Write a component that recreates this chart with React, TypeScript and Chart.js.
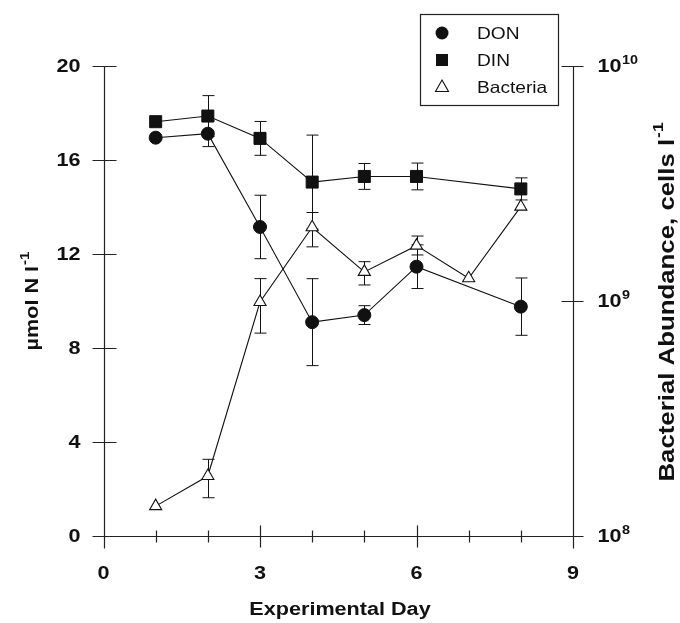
import React, { useEffect, useRef } from 'react';
import { Chart, registerables } from 'chart.js';

Chart.register(...registerables);

// ---- data ----
const days = [1, 2, 3, 4, 5, 6, 8];
const donValues = [16.95, 17.12, 13.15, 9.1, 9.4, 11.46, 9.76];
const donErrors = [0, 0.55, 1.35, 1.85, 0.4, 0.93, 1.22];
const dinValues = [17.63, 17.87, 16.92, 15.06, 15.3, 15.3, 14.77];
const dinErrors = [0, 0.87, 0.72, 2.0, 0.55, 0.57, 0.47];
const bacteriaDays = [1, 2, 3, 4, 5, 6, 7, 8];
const bacteriaValues = [1.34e8, 1.8e8, 0.99e9, 2.06e9, 1.33e9, 1.72e9, 1.25e9, 2.52e9];
const bacteriaLow = [null, 1.455e8, 7.3e8, 1.7e9, 1.17e9, 1.57e9, null, null];
const bacteriaHigh = [null, 2.12e8, 1.245e9, 2.38e9, 1.47e9, 1.89e9, null, null];

const xMajorTicks = [0, 3, 6, 9];
const xMinorTicks = [1, 2, 4, 5, 7, 8];
const leftTicks = [0, 4, 8, 12, 16, 20];
const rightTicks = [1e8, 1e9, 1e10];
const rightTickExponents = ['8', '9', '10'];
const legendLabels = ['DON', 'DIN', 'Bacteria'];
const xTitle = 'Experimental Day';
const leftTitle = 'µmol N l';
const rightTitle = 'Bacterial Abundance, cells l';
const unitExponent = '-1';

const FONT = '"Liberation Sans", Arial, Helvetica, sans-serif';
const INK = '#111';
const SX = 1.2;

function drawText(
  ctx: CanvasRenderingContext2D,
  text: string,
  x: number,
  y: number,
  font: string,
  align: CanvasTextAlign,
  sx = SX,
): number {
  ctx.save();
  ctx.translate(x, y);
  ctx.scale(sx, 1);
  ctx.font = font;
  ctx.textAlign = align;
  ctx.textBaseline = 'middle';
  ctx.fillText(text, 0, 0);
  const w = ctx.measureText(text).width * sx;
  ctx.restore();
  return w;
}

function measure(ctx: CanvasRenderingContext2D, text: string, font: string, sx = SX) {
  ctx.save();
  ctx.font = font;
  const w = ctx.measureText(text).width * sx;
  ctx.restore();
  return w;
}

const drawPlugin = {
  id: 'customDraw',
  beforeDatasetsDraw(chart: any) {
    const ctx = chart.ctx as CanvasRenderingContext2D;
    const xs = chart.scales.x;
    const ys = chart.scales.y;
    const yr = chart.scales.y1;
    const L = Math.round(xs.getPixelForValue(0)) + 0.5;
    const R = Math.round(xs.getPixelForValue(9)) + 0.5;
    const T = Math.round(ys.getPixelForValue(20)) + 0.5;
    const B = Math.round(ys.getPixelForValue(0)) + 0.5;
    ctx.save();
    ctx.strokeStyle = '#222';
    ctx.lineWidth = 1.2;
    ctx.beginPath();
    ctx.moveTo(L, T);
    ctx.lineTo(L, B + 12);
    ctx.moveTo(R, T);
    ctx.lineTo(R, B + 12);
    ctx.moveTo(L - 12, B);
    ctx.lineTo(R + 4, B);
    leftTicks.forEach((v) => {
      const py = Math.round(ys.getPixelForValue(v)) + 0.5;
      ctx.moveTo(L - 12, py);
      ctx.lineTo(L + 12, py);
    });
    rightTicks.forEach((v) => {
      const py = Math.round(yr.getPixelForValue(v)) + 0.5;
      ctx.moveTo(R - 12, py);
      ctx.lineTo(R + 10, py);
    });
    xMajorTicks.forEach((v) => {
      const px = Math.round(xs.getPixelForValue(v)) + 0.5;
      ctx.moveTo(px, B - 11);
      ctx.lineTo(px, B + 11);
    });
    xMinorTicks.forEach((v) => {
      const px = Math.round(xs.getPixelForValue(v)) + 0.5;
      ctx.moveTo(px, B - 6);
      ctx.lineTo(px, B + 6);
    });
    ctx.stroke();

    // tick labels
    ctx.fillStyle = INK;
    const tickFont = `bold 18px ${FONT}`;
    leftTicks.forEach((v) => {
      drawText(ctx, String(v), L - 24, ys.getPixelForValue(v) + 1, tickFont, 'right');
    });
    xMajorTicks.forEach((v) => {
      drawText(ctx, String(v), xs.getPixelForValue(v), B + 38, tickFont, 'center');
    });
    rightTicks.forEach((v, i) => {
      const py = yr.getPixelForValue(v) + 1;
      const w = drawText(ctx, '10', R + 24, py, tickFont, 'left');
      drawText(ctx, rightTickExponents[i], R + 24 + w + 0.5, py - 6, `bold 12px ${FONT}`, 'left');
    });

    // titles
    drawText(ctx, xTitle, 340, 610, `bold 18px ${FONT}`, 'center');

    const drawRotated = (text: string, cx: number, cy: number, size: number, supSize: number) => {
      ctx.save();
      ctx.translate(cx, cy);
      ctx.rotate(-Math.PI / 2);
      const f1 = `bold ${size}px ${FONT}`;
      const f2 = `bold ${supSize}px ${FONT}`;
      const w1 = measure(ctx, text, f1);
      const w2 = measure(ctx, unitExponent, f2);
      const total = w1 + w2 + 1;
      drawText(ctx, text, -total / 2, 0, f1, 'left');
      drawText(ctx, unitExponent, -total / 2 + w1 + 1, -size * 0.42, f2, 'left');
      ctx.restore();
    };
    drawRotated(leftTitle, 33, 301, 18, 12.5);
    drawRotated(rightTitle, 668, 302, 21.5, 14.5);

    // error bars
    ctx.strokeStyle = INK;
    ctx.lineWidth = 1;
    const bar = (px: number, top: number, bottom: number) => {
      ctx.beginPath();
      ctx.moveTo(px, top);
      ctx.lineTo(px, bottom);
      ctx.moveTo(px - 6, top);
      ctx.lineTo(px + 6, top);
      ctx.moveTo(px - 6, bottom);
      ctx.lineTo(px + 6, bottom);
      ctx.stroke();
    };
    days.forEach((d, i) => {
      const px = Math.round(xs.getPixelForValue(d)) + 0.5;
      if (donErrors[i]) bar(px, ys.getPixelForValue(donValues[i] + donErrors[i]), ys.getPixelForValue(donValues[i] - donErrors[i]));
      if (dinErrors[i]) bar(px, ys.getPixelForValue(dinValues[i] + dinErrors[i]), ys.getPixelForValue(dinValues[i] - dinErrors[i]));
    });
    bacteriaDays.forEach((d, i) => {
      const lo = bacteriaLow[i];
      const hi = bacteriaHigh[i];
      if (lo != null && hi != null) {
        const px = Math.round(xs.getPixelForValue(d)) + 0.5;
        bar(px, yr.getPixelForValue(hi), yr.getPixelForValue(lo));
      }
    });

    // legend
    const bx = 420.5, by = 14.5, bw = 138, bh = 91;
    ctx.strokeStyle = '#222';
    ctx.lineWidth = 1.2;
    ctx.fillStyle = '#fff';
    ctx.fillRect(bx, by, bw, bh);
    ctx.strokeRect(bx, by, bw, bh);
    const rows = [33, 60, 87];
    const mx = 442;
    ctx.fillStyle = INK;
    ctx.beginPath();
    ctx.arc(mx, rows[0], 6.5, 0, Math.PI * 2);
    ctx.fill();
    ctx.fillRect(mx - 6, rows[1] - 6, 12, 12);
    ctx.beginPath();
    ctx.moveTo(mx, rows[2] - 7);
    ctx.lineTo(mx + 6.5, rows[2] + 4.5);
    ctx.lineTo(mx - 6.5, rows[2] + 4.5);
    ctx.closePath();
    ctx.lineWidth = 1.1;
    ctx.strokeStyle = INK;
    ctx.stroke();
    legendLabels.forEach((t, i) => drawText(ctx, t, 477, rows[i] + 1, `16.5px ${FONT}`, 'left', 1.16));
    ctx.restore();
  },
};

export default function App() {
  const ref = useRef<HTMLCanvasElement>(null);
  useEffect(() => {
    const canvas = ref.current;
    if (!canvas) return;
    const chart = new Chart(canvas, {
      type: 'line',
      data: {
        datasets: [
          {
            label: 'DON',
            data: days.map((d, i) => ({ x: d, y: donValues[i] })),
            yAxisID: 'y',
            borderColor: INK,
            borderWidth: 1.1,
            pointStyle: 'circle',
            pointRadius: 6.5,
            pointBackgroundColor: INK,
            pointBorderColor: INK,
            pointBorderWidth: 1,
            fill: false,
          },
          {
            label: 'DIN',
            data: days.map((d, i) => ({ x: d, y: dinValues[i] })),
            yAxisID: 'y',
            borderColor: INK,
            borderWidth: 1.1,
            pointStyle: 'rect',
            pointRadius: 8.5,
            pointBackgroundColor: INK,
            pointBorderColor: INK,
            pointBorderWidth: 1,
            fill: false,
          },
          {
            label: 'Bacteria',
            data: bacteriaDays.map((d, i) => ({ x: d, y: bacteriaValues[i] })),
            yAxisID: 'y1',
            borderColor: INK,
            borderWidth: 1.1,
            pointStyle: 'triangle',
            pointRadius: 7,
            pointBackgroundColor: '#fff',
            pointBorderColor: INK,
            pointBorderWidth: 1.1,
            fill: false,
          },
        ],
      },
      options: {
        animation: false,
        responsive: false,
        events: [],
        layout: { padding: { left: 103.5, right: 107, top: 66, bottom: 87 } },
        plugins: { legend: { display: false }, tooltip: { enabled: false } },
        scales: {
          x: { type: 'linear', min: 0, max: 9, display: false },
          y: { type: 'linear', min: 0, max: 20, display: false },
          y1: { type: 'logarithmic', min: 1e8, max: 1e10, display: false },
        },
      } as any,
      plugins: [drawPlugin],
    });
    return () => chart.destroy();
  }, []);
  return (
    <div style={{ position: 'fixed', left: 0, top: 0, width: 680, height: 623, background: '#fff' }}>
      <canvas ref={ref} width={680} height={623} style={{ display: 'block' }} />
    </div>
  );
}
